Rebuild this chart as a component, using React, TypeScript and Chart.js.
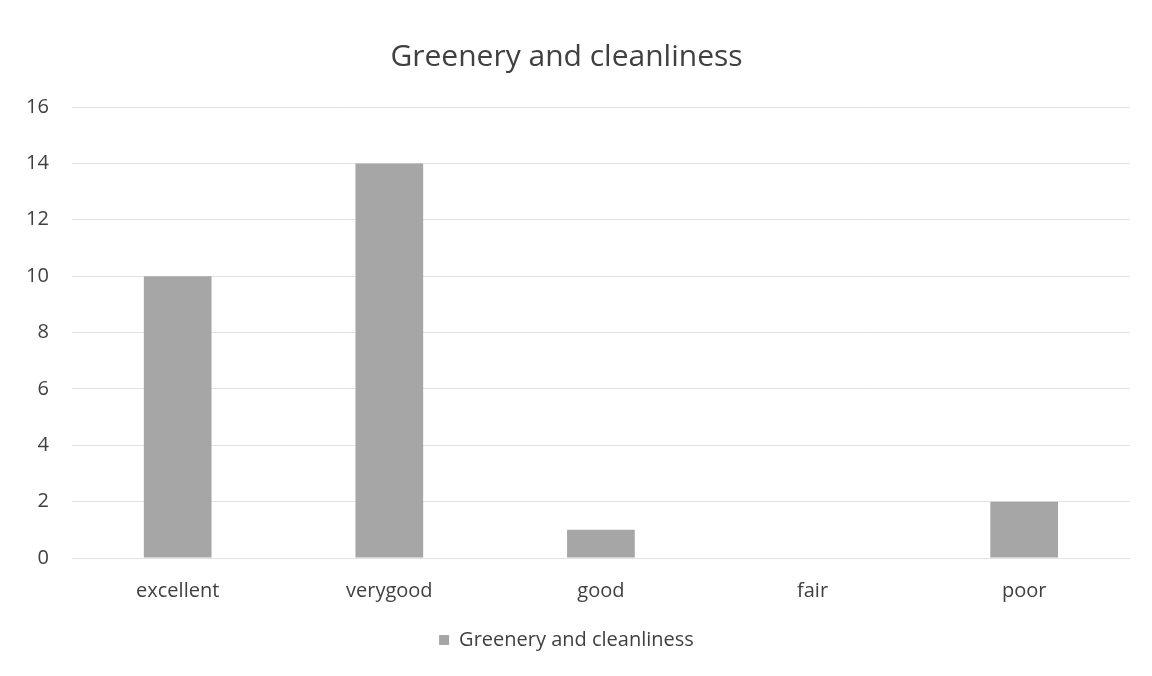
import React, { useEffect, useRef } from "react";
import { Chart, registerables } from "chart.js";

Chart.register(...registerables);

const categories = ["excellent", "verygood", "good", "fair", "poor"];
const values = [10, 14, 1, 0, 2];
const seriesName = "Greenery and cleanliness";
const chartTitle = "Greenery and cleanliness";

export default function App() {
  const ref = useRef<HTMLCanvasElement | null>(null);
  useEffect(() => {
    document.body.style.margin = "0";
    const ctx = ref.current!;
    const chart = new Chart(ctx, {
      type: "bar",
      data: {
        labels: categories,
        datasets: [
          {
            label: seriesName,
            data: values,
            backgroundColor: "#a6a6a6",
            borderWidth: 0,
            barPercentage: 0.32,
            categoryPercentage: 1,
          },
        ],
      },
      options: {
        responsive: false,
        animation: false,
        layout: { padding: { left: 3, right: 22, top: 39, bottom: 16 } },
        plugins: {
          title: {
            display: true,
            text: chartTitle,
            color: "#404040",
            font: { family: "'Open Sans', sans-serif", size: 30, weight: "normal" },
            padding: { top: 0, bottom: 32 },
          },
          legend: {
            position: "bottom",
            labels: {
              color: "#404040",
              font: { family: "'Open Sans', sans-serif", size: 20 },
              boxWidth: 10,
              boxHeight: 10,
              padding: 14,
            },
          },
          tooltip: { enabled: false },
        },
        scales: {
          x: {
            grid: { display: false },
            border: { display: false },
            ticks: {
              color: "#404040",
              font: { family: "'Open Sans', sans-serif", size: 20 },
              padding: 13,
            },
          },
          y: {
            min: 0,
            max: 16,
            ticks: {
              stepSize: 2,
              color: "#404040",
              font: { family: "'Open Sans', sans-serif", size: 20 },
              padding: 23,
            },
            grid: { color: "#e2e2e2", drawTicks: false },
            border: { display: false },
          },
        },
      },
    });
    return () => chart.destroy();
  }, []);
  return (
    <div style={{ width: 1152, height: 676, background: "#fff" }}>
      <canvas ref={ref} width={1152} height={676} />
    </div>
  );
}
